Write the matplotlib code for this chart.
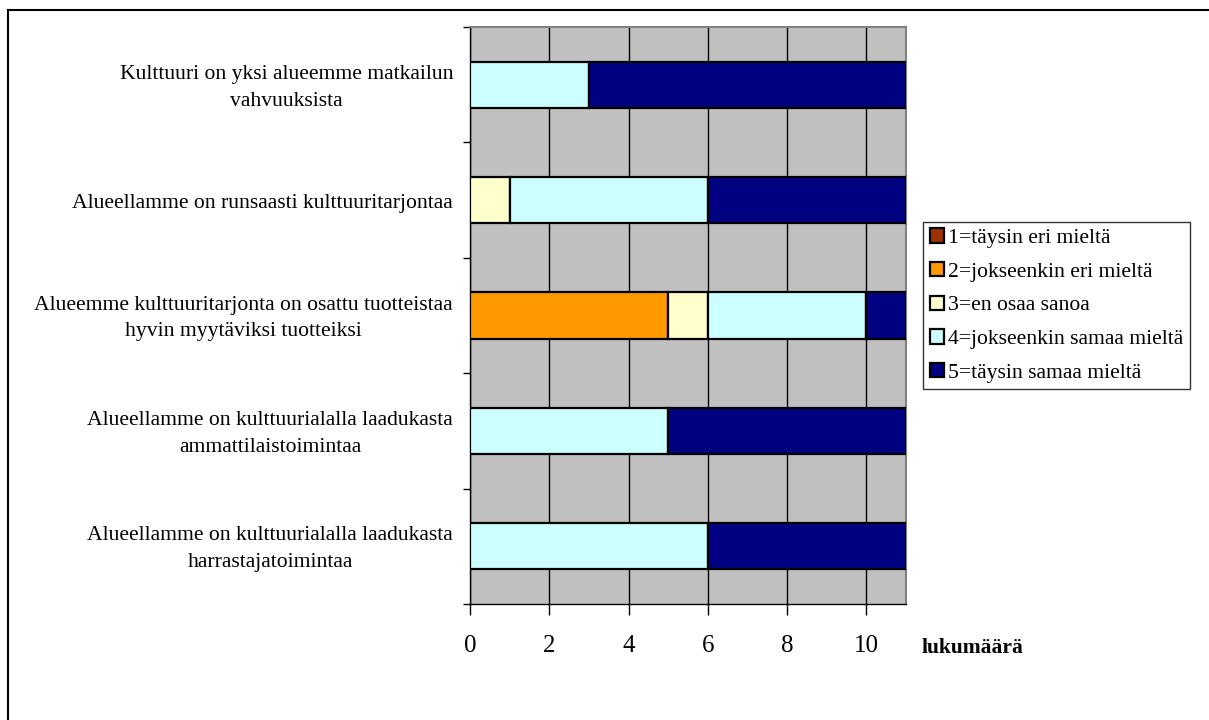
import matplotlib
matplotlib.use("Agg")
import matplotlib.pyplot as plt
from matplotlib.lines import Line2D
from matplotlib.transforms import offset_copy
import numpy as np

plt.rcParams['font.family'] = ['Liberation Serif', 'DejaVu Serif']

categories = [
    "Kulttuuri on yksi alueemme matkailun\nvahvuuksista",
    "Alueellamme on runsaasti kulttuuritarjontaa",
    "Alueemme kulttuuritarjonta on osattu tuotteistaa\nhyvin myytäviksi tuotteiksi",
    "Alueellamme on kulttuurialalla laadukasta\nammattilaistoimintaa",
    "Alueellamme on kulttuurialalla laadukasta\nharrastajatoimintaa",
]
series_labels = [
    "1=täysin eri mieltä",
    "2=jokseenkin eri mieltä",
    "3=en osaa sanoa",
    "4=jokseenkin samaa mieltä",
    "5=täysin samaa mieltä",
]
s1 = [0, 0, 0, 0, 0]
s2 = [0, 0, 5, 0, 0]
s3 = [0, 1, 1, 0, 0]
s4 = [3, 5, 4, 5, 6]
s5 = [8, 5, 1, 6, 5]
colors = ["#993300", "#FF9900", "#FFFFCC", "#CCFFFF", "#000080"]
x_ticks = [0, 2, 4, 6, 8, 10]
x_label = "lukumäärä"

fig = plt.figure(figsize=(12.09, 7.2), dpi=100)
ax = fig.add_axes([470 / 1209, 1 - 604 / 720, 436 / 1209, 577 / 720])
ax.set_facecolor("#C0C0C0")

y = np.arange(len(categories))
left = np.zeros(len(categories))
handles = []
for vals, col, lab in zip([s1, s2, s3, s4, s5], colors, series_labels):
    vals = np.array(vals, dtype=float)
    b = ax.barh(y, vals, left=left, height=0.4, color=col,
                edgecolor="black", linewidth=1.6, label=lab, zorder=3)
    handles.append(b)
    left += vals

ax.set_xlim(0, 11)
ax.set_ylim(len(categories) - 0.5, -0.5)

# vertical grid lines
ax.set_xticks(x_ticks)
ax.xaxis.grid(True, color="black", linewidth=1.0, zorder=1)
ax.set_axisbelow(True)
ax.tick_params(axis="x", direction="out", length=8, width=1, pad=14,
               labelsize=18)

# tick marks sit on the category boundaries; labels centred on each bar
ax.set_yticks(np.arange(-0.5, len(categories), 1.0))
ax.set_yticklabels([])
ax.tick_params(axis="y", which="major", direction="out", length=5, width=1)
label_tr = offset_copy(ax.get_yaxis_transform(), fig=fig, x=-17, y=-3,
                       units="dots")
for yi, cat in zip(y, categories):
    ax.text(0, yi, cat, transform=label_tr,
            ha="right", va="center", multialignment="center",
            fontsize=15.6, linespacing=1.55)

for side in ["top", "right"]:
    ax.spines[side].set_color("#808080")
    ax.spines[side].set_linewidth(1.5)
for side in ["left", "bottom"]:
    ax.spines[side].set_color("black")
    ax.spines[side].set_linewidth(1.0)

fig.text(922 / 1209, 1 - 648 / 720, x_label, fontsize=15.5, fontweight="bold",
         ha="left", va="center")

leg = fig.legend(handles=handles, labels=series_labels,
                 loc="center left", bbox_to_anchor=(923 / 1209, 1 - 305.5 / 720),
                 borderaxespad=0, fontsize=15.6, frameon=True, fancybox=False,
                 edgecolor="black", handlelength=0.65, handleheight=0.65,
                 handletextpad=0.22, labelspacing=0.64, borderpad=0.3)
leg.get_frame().set_linewidth(1.0)

# outer chart frame (top and left edges)
fig.add_artist(Line2D([8 / 1209, 1.0], [1 - 10 / 720, 1 - 10 / 720],
                      transform=fig.transFigure, color="black", linewidth=1.5))
fig.add_artist(Line2D([8 / 1209, 8 / 1209], [1 - 10 / 720, 0.0],
                      transform=fig.transFigure, color="black", linewidth=1.5))

fig.savefig("out.png", dpi=100)
